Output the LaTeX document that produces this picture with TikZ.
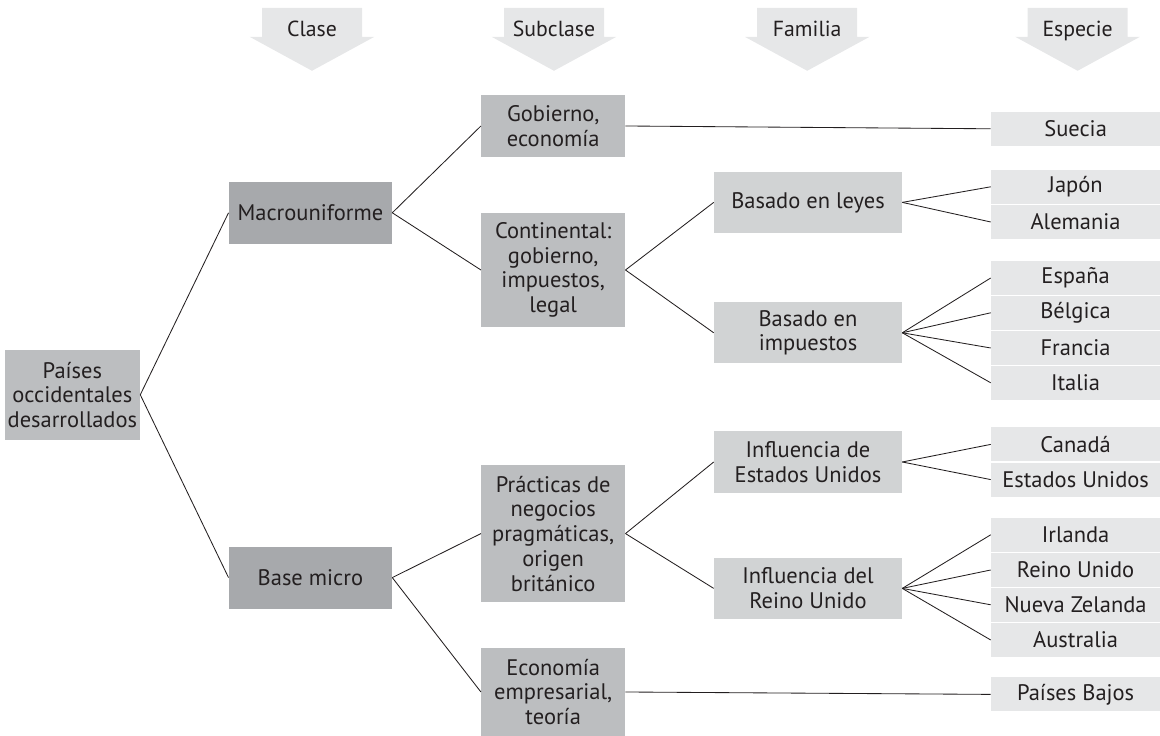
\documentclass[tikz,border=0pt]{standalone}
\usepackage{fontspec}
\setmainfont{PT Sans}
\usepackage{xcolor}
\usepackage{tikz}
\definecolor{TXDark}{HTML}{A7A9AC}
\definecolor{TXMid}{HTML}{BCBEC0}
\definecolor{TXLight}{HTML}{D1D3D4}
\definecolor{TXPale}{HTML}{E6E7E8}
\definecolor{TXInk}{HTML}{231F20}
\tikzset{
  tbox/.style={inner sep=0pt,align=center,text=TXInk,font=\fontsize{16}{17.6}\selectfont},
  classbox/.style={tbox,fill=TXDark,minimum width=4.08cm,minimum height=1.55cm},
  subbox/.style={tbox,fill=TXMid,minimum width=3.60cm},
  fambox/.style={tbox,fill=TXLight,minimum width=4.70cm,minimum height=1.53cm},
  spbox/.style={tbox,fill=TXPale,minimum width=4.23cm,minimum height=0.85cm},
  hlab/.style={tbox,anchor=base,font=\fontsize{15.5}{17.5}\selectfont},
  link/.style={TXInk,line width=.6pt}
}

\begin{document}
\begin{tikzpicture}[x=1cm,y=1cm]
\path[use as bounding box] (0,0) rectangle (29.00,18.40);
% header arrows
\fill[TXPale] (6.55,18.20) -- (9.05,18.20) -- (9.05,17.48) -- (9.36,17.48) -- (7.80,16.63) -- (6.24,17.48) -- (6.55,17.48) -- cycle;
\fill[TXPale] (12.60,18.20) -- (15.10,18.20) -- (15.10,17.48) -- (15.41,17.48) -- (13.85,16.63) -- (12.29,17.48) -- (12.60,17.48) -- cycle;
\fill[TXPale] (18.93,18.20) -- (21.43,18.20) -- (21.43,17.48) -- (21.74,17.48) -- (20.18,16.63) -- (18.62,17.48) -- (18.93,17.48) -- cycle;
\fill[TXPale] (25.69,18.20) -- (28.19,18.20) -- (28.19,17.48) -- (28.50,17.48) -- (26.94,16.63) -- (25.38,17.48) -- (25.69,17.48) -- cycle;
\node[hlab] (hclase) at (7.80,17.48) {Clase};
\node[hlab] (hsubclase) at (13.85,17.48) {Subclase};
\node[hlab] (hfamilia) at (20.18,17.48) {Familia};
\node[hlab] (hespecie) at (26.94,17.48) {Especie};
% root and classes
\node[tbox,fill=TXMid,minimum width=3.38cm,minimum height=2.25cm] (paises) at (1.81,8.53) {Países\\occidentales\\desarrollados};
\node[classbox] (macro) at (7.76,13.08) {Macrouniforme};
\node[classbox] (micro) at (7.76,3.96) {Base micro};
% subclasses
\node[subbox,minimum height=1.55cm] (gob) at (13.83,15.25) {Gobierno,\\economía};
\node[subbox,minimum height=2.85cm] (cont) at (13.83,11.65) {Continental:\\gobierno,\\impuestos,\\legal};
\node[subbox,minimum height=3.43cm] (prac) at (13.83,5.06) {Prácticas de\\negocios\\pragmáticas,\\origen\\británico};
\node[subbox,minimum height=2.20cm] (econ) at (13.83,1.10) {Economía\\empresarial,\\teoría};
% families
\node[fambox] (leyes) at (20.20,13.34) {Basado en leyes};
\node[fambox] (impu) at (20.20,10.08) {Basado en\\impuestos};
\node[fambox] (infeu) at (20.20,6.85) {Influencia de\\Estados Unidos};
\node[fambox] (infru) at (20.20,3.69) {Influencia del\\Reino Unido};
% species
\node[spbox] (suecia) at (26.89,15.18) {Suecia};
\node[spbox] (japon) at (26.89,13.73) {Japón};
\node[spbox] (alemania) at (26.89,12.85) {Alemania};
\node[spbox] (espana) at (26.89,11.45) {España};
\node[spbox] (belgica) at (26.89,10.58) {Bélgica};
\node[spbox] (francia) at (26.89,9.70) {Francia};
\node[spbox] (italia) at (26.89,8.83) {Italia};
\node[spbox] (canada) at (26.89,7.29) {Canadá};
\node[spbox] (eeuu) at (26.89,6.41) {Estados Unidos};
\node[spbox] (irlanda) at (26.89,5.03) {Irlanda};
\node[spbox] (reino) at (26.89,4.15) {Reino Unido};
\node[spbox] (nzelanda) at (26.89,3.28) {Nueva Zelanda};
\node[spbox] (australia) at (26.89,2.40) {Australia};
\node[spbox] (pbajos) at (26.89,1.04) {Países Bajos};
% connectors
\draw[link] (paises.east) -- (macro.west);
\draw[link] (paises.east) -- (micro.west);
\draw[link] (macro.east) -- (gob.west);
\draw[link] (macro.east) -- (cont.west);
\draw[link] (micro.east) -- (prac.west);
\draw[link] (micro.east) -- (econ.west);
\draw[link] (gob.east) -- (suecia.west);
\draw[link] (cont.east) -- (leyes.west);
\draw[link] (cont.east) -- (impu.west);
\draw[link] (prac.east) -- (infeu.west);
\draw[link] (prac.east) -- (infru.west);
\draw[link] (econ.east) -- (pbajos.west);
\draw[link] (leyes.east) -- (japon.west);
\draw[link] (leyes.east) -- (alemania.west);
\draw[link] (impu.east) -- (espana.west);
\draw[link] (impu.east) -- (belgica.west);
\draw[link] (impu.east) -- (francia.west);
\draw[link] (impu.east) -- (italia.west);
\draw[link] (infeu.east) -- (canada.west);
\draw[link] (infeu.east) -- (eeuu.west);
\draw[link] (infru.east) -- (irlanda.west);
\draw[link] (infru.east) -- (reino.west);
\draw[link] (infru.east) -- (nzelanda.west);
\draw[link] (infru.east) -- (australia.west);
\end{tikzpicture}
\end{document}
